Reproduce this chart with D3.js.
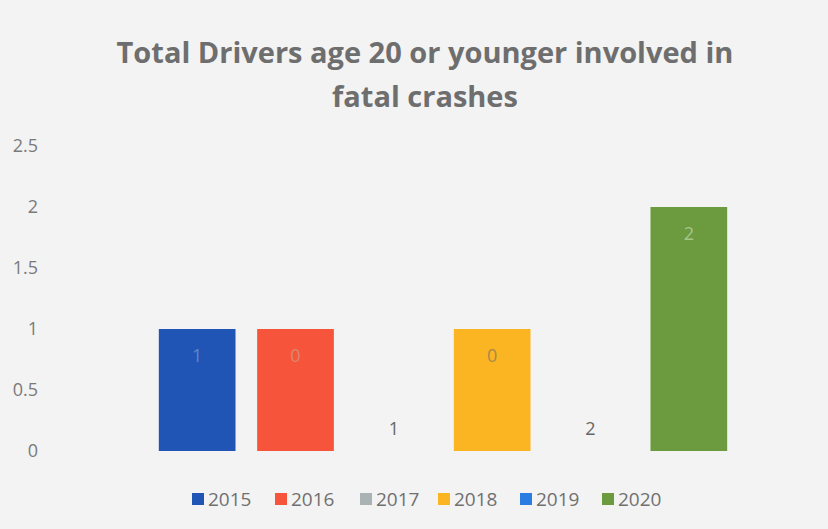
<!DOCTYPE html>
<html>
<head>
<meta charset="utf-8">
<script src="https://cdn.jsdelivr.net/npm/d3@7"></script>
<style>
  body { margin: 0; background: #f3f3f3; }
  svg { display: block; font-family: "Open Sans", "Liberation Sans", sans-serif; }
</style>
</head>
<body>
<div id="chart"></div>
<script>
var svgWidth = 828;
var svgHeight = 529;

// data
var years = ["2015", "2016", "2017", "2018", "2019", "2020"];
var drivers = [1, 1, 0, 1, 0, 2];
var labels = ["1", "0", "1", "0", "2", "2"];
var colors = ["#2155b5", "#f7553b", "#aab3b3", "#fbb522", "#2a7de1", "#6b9a3f"];
var labelColors = ["#5f86c8", "#d9876c", "#666666", "#a98a48", "#666666", "#a8c68a"];
var yTicks = [0, 0.5, 1, 1.5, 2, 2.5];

var margin = { top: 146, right: 90, bottom: 78, left: 148 };
var width = svgWidth - margin.left - margin.right;
var height = svgHeight - margin.top - margin.bottom;

var svg = d3.select("#chart")
  .append("svg")
  .attr("width", svgWidth)
  .attr("height", svgHeight);

svg.append("rect")
  .attr("width", svgWidth)
  .attr("height", svgHeight)
  .attr("fill", "#f3f3f3");

// title
var title = svg.append("text")
  .attr("x", 425)
  .attr("text-anchor", "middle")
  .style("font-size", "29px")
  .style("font-weight", "bold")
  .style("fill", "#6e6e6e");
title.append("tspan").attr("x", 425).attr("y", 63)
  .text("Total Drivers age 20 or younger involved in");
title.append("tspan").attr("x", 425).attr("y", 107)
  .text("fatal crashes");

var chartGroup = svg.append("g")
  .attr("transform", `translate(${margin.left}, ${margin.top})`);

var xBandScale = d3.scaleBand()
  .domain(years)
  .range([0, width])
  .paddingInner(0.22)
  .paddingOuter(0.11);

var yLinearScale = d3.scaleLinear()
  .domain([0, 2.5])
  .range([height, 0]);

// y axis, labels only
var leftAxis = d3.axisLeft(yLinearScale)
  .tickValues(yTicks)
  .tickFormat(d3.format("~g"))
  .tickSize(0)
  .tickPadding(0);

var yAxis = svg.append("g")
  .attr("transform", `translate(38, ${margin.top})`)
  .call(leftAxis);
yAxis.select(".domain").remove();
yAxis.selectAll("text")
  .style("font-size", "18px")
  .style("font-family", "\"Open Sans\", sans-serif")
  .style("fill", "#7a7a7a");

// bars
chartGroup.selectAll("rect.bar")
  .data(years)
  .enter()
  .append("rect")
  .attr("class", "bar")
  .attr("x", d => xBandScale(d))
  .attr("y", (d, i) => yLinearScale(drivers[i]))
  .attr("width", xBandScale.bandwidth())
  .attr("height", (d, i) => height - yLinearScale(drivers[i]))
  .attr("fill", (d, i) => colors[i]);

// data labels
chartGroup.selectAll("text.lbl")
  .data(years)
  .enter()
  .append("text")
  .attr("class", "lbl")
  .attr("x", d => xBandScale(d) + xBandScale.bandwidth() / 2)
  .attr("y", (d, i) => drivers[i] > 0 ? yLinearScale(drivers[i]) + 33 : yLinearScale(0) - 16)
  .attr("text-anchor", "middle")
  .style("font-size", "18px")
  .style("fill", (d, i) => labelColors[i])
  .text((d, i) => labels[i]);

// legend
var legendX = [192, 275, 360, 438, 520, 602];
var legend = svg.append("g");
var items = legend.selectAll("g")
  .data(years)
  .enter()
  .append("g")
  .attr("transform", (d, i) => `translate(${legendX[i]}, 499)`);
items.append("rect")
  .attr("x", 0)
  .attr("y", -6)
  .attr("width", 12)
  .attr("height", 12)
  .attr("fill", (d, i) => colors[i]);
items.append("text")
  .attr("x", 16)
  .attr("y", 7)
  .style("font-size", "19px")
  .style("fill", "#707070")
  .text(d => d);
</script>
</body>
</html>
